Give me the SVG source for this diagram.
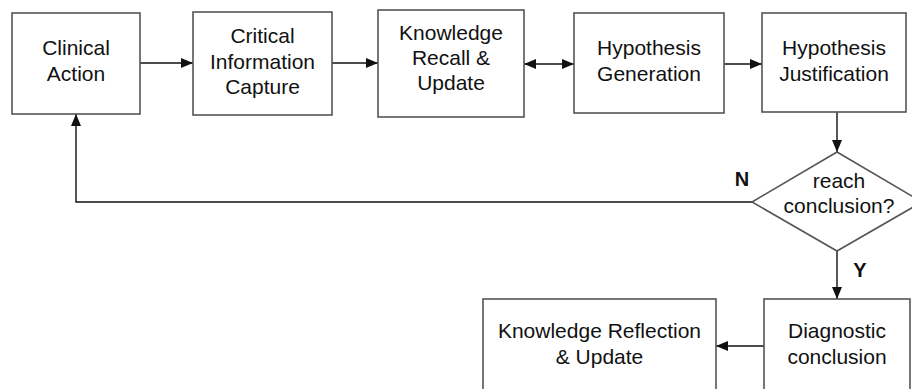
<svg xmlns="http://www.w3.org/2000/svg" width="912" height="389" viewBox="0 0 912 389">
<style>
.box{fill:#fff;stroke:#555;stroke-width:1.6}
.t{font-family:"Liberation Sans",Arial,sans-serif;font-size:21px;fill:#111;text-anchor:middle}
.lbl{font-family:"Liberation Sans",Arial,sans-serif;font-size:20px;font-weight:bold;fill:#111;text-anchor:middle}
.c{fill:none;stroke:#111;stroke-width:1.4}
</style>
<defs>
<marker id="ah" viewBox="0 0 12 10" refX="12" refY="5" markerWidth="12" markerHeight="10" markerUnits="userSpaceOnUse" orient="auto-start-reverse">
<path d="M0,0 L12,5 L0,10 Z" fill="#111"/>
</marker>
</defs>
<rect width="912" height="389" fill="#fff"/>
<g id="connectors">
<line class="c" x1="140" y1="63" x2="193" y2="63" marker-end="url(#ah)"/>
<line class="c" x1="332" y1="63" x2="378" y2="63" marker-end="url(#ah)"/>
<line class="c" x1="524" y1="64" x2="574" y2="64" marker-start="url(#ah)" marker-end="url(#ah)"/>
<line class="c" x1="724" y1="64" x2="762" y2="64" marker-end="url(#ah)"/>
<line class="c" x1="837" y1="112" x2="837" y2="152" marker-end="url(#ah)"/>
<polyline class="c" points="752,202 76,202 76,114" marker-end="url(#ah)"/>
<line class="c" x1="837" y1="251" x2="837" y2="299" marker-end="url(#ah)"/>
<line class="c" x1="764" y1="346" x2="716" y2="346" marker-end="url(#ah)"/>
<text class="lbl" x="742" y="186">N</text>
<text class="lbl" x="860" y="277">Y</text>
</g>
<g id="clinical-action">
<rect class="box" x="12" y="13" width="128" height="101"/>
<text class="t" x="76" y="55">Clinical</text>
<text class="t" x="76" y="81">Action</text>
</g>
<g id="critical-information-capture">
<rect class="box" x="193" y="12" width="139" height="103"/>
<text class="t" x="262.5" y="43">Critical</text>
<text class="t" x="262.5" y="69">Information</text>
<text class="t" x="262.5" y="94">Capture</text>
</g>
<g id="knowledge-recall-update">
<rect class="box" x="378" y="10" width="146" height="107"/>
<text class="t" x="451" y="40">Knowledge</text>
<text class="t" x="451" y="65">Recall &amp;</text>
<text class="t" x="451" y="90">Update</text>
</g>
<g id="hypothesis-generation">
<rect class="box" x="574" y="13" width="150" height="100"/>
<text class="t" x="649" y="55">Hypothesis</text>
<text class="t" x="649" y="81">Generation</text>
</g>
<g id="hypothesis-justification">
<rect class="box" x="762" y="13" width="144" height="99"/>
<text class="t" x="834" y="55">Hypothesis</text>
<text class="t" x="834" y="81">Justification</text>
</g>
<g id="reach-conclusion">
<polygon class="box" points="837,152 922,202 837,251 752,202"/>
<text class="t" x="839" y="188">reach</text>
<text class="t" x="839" y="213">conclusion?</text>
</g>
<g id="diagnostic-conclusion">
<rect class="box" x="764" y="299" width="146" height="110"/>
<text class="t" x="837" y="338">Diagnostic</text>
<text class="t" x="837" y="364">conclusion</text>
</g>
<g id="knowledge-reflection-update">
<rect class="box" x="483" y="299" width="233" height="110"/>
<text class="t" x="599.5" y="338">Knowledge Reflection</text>
<text class="t" x="599.5" y="364">&amp; Update</text>
</g>
</svg>
